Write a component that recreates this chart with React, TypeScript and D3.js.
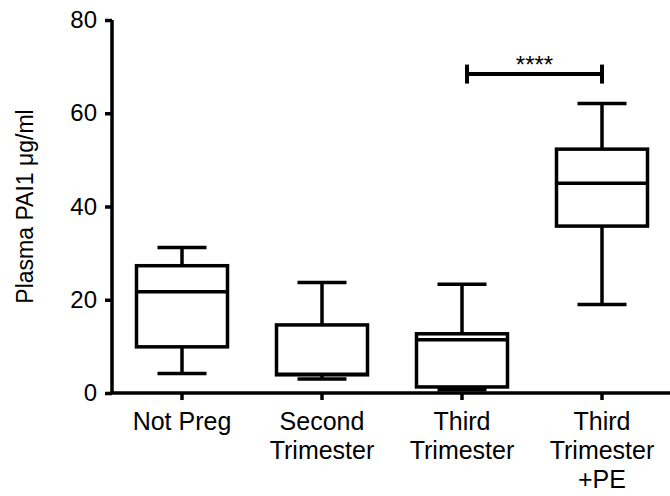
import * as d3 from 'd3';
import React, { useEffect, useRef } from 'react';

// groups
const categories = ['Not Preg', 'Second Trimester', 'Third Trimester', 'Third Trimester +PE'];
const categoryLines = [['Not Preg'], ['Second', 'Trimester'], ['Third', 'Trimester'], ['Third', 'Trimester', '+PE']];
const mins = [4.2, 3.0, 0.7, 19.0];
const q1s = [9.9, 3.9, 1.3, 35.8];
const medians = [21.7, 4.0, 11.4, 45.0];
const q3s = [27.3, 14.6, 12.7, 52.3];
const maxs = [31.2, 23.7, 23.3, 62.1];
const yTicks = [0, 20, 40, 60, 80];

// significance bracket between groups 3 and 4
const sigFrom = 'Third Trimester';
const sigTo = 'Third Trimester +PE';
const sigValue = 68.4;
const sigLabel = '****';

const W = 670;
const H = 496;
const font = '"Liberation Sans", Arial, sans-serif';

export default function App() {
  const ref = useRef<SVGSVGElement>(null);

  useEffect(() => {
    const svg = d3.select(ref.current);
    svg.selectAll('*').remove();

    const margin = { top: 20, right: -2, bottom: 103, left: 112 };
    const x = d3.scaleBand().domain(categories).range([margin.left, W - margin.right]).padding(0);
    const y = d3.scaleLinear().domain([0, 80]).range([H - margin.bottom, margin.top]);
    const cx = (c: string) => x(c)! + x.bandwidth() / 2;
    const boxW = x.bandwidth() * 0.65;
    const capW = x.bandwidth() * 0.35;
    const sw = 3.5;

    // y axis
    const gy = svg.append('g').attr('transform', 'translate(' + margin.left + ',0)')
      .call(d3.axisLeft(y).tickValues(yTicks).tickSize(7).tickPadding(8));
    gy.select('.domain').attr('stroke-width', sw).attr('d', 'M0,' + y(0) + 'V' + y(80));
    gy.selectAll('.tick line').attr('stroke-width', sw);
    gy.selectAll('.tick text').attr('font-size', 24).attr('font-family', font).attr('fill', '#000');

    // x axis
    const gx = svg.append('g').attr('transform', 'translate(0,' + y(0) + ')')
      .call(d3.axisBottom(x).tickSize(7).tickFormat(() => ''));
    gx.select('.domain').attr('stroke-width', sw).attr('d', 'M' + (margin.left - sw / 2) + ',0H' + W);
    gx.selectAll('.tick line').attr('stroke-width', sw);

    categories.forEach((c, i) => {
      const t = svg.append('text')
        .attr('x', cx(c)).attr('y', 430)
        .attr('text-anchor', 'middle').attr('font-size', 25).attr('font-family', font);
      categoryLines[i].forEach((ln, j) => {
        t.append('tspan').attr('x', cx(c)).attr('dy', j === 0 ? 0 : 29).text(ln);
      });
    });

    // boxes
    const g = svg.append('g').attr('stroke', '#000').attr('stroke-width', sw).attr('fill', 'none');
    categories.forEach((c, i) => {
      const m = cx(c);
      g.append('line').attr('x1', m).attr('x2', m).attr('y1', y(maxs[i])).attr('y2', y(q3s[i]));
      g.append('line').attr('x1', m).attr('x2', m).attr('y1', y(q1s[i])).attr('y2', y(mins[i]));
      g.append('line').attr('x1', m - capW / 2).attr('x2', m + capW / 2).attr('y1', y(maxs[i])).attr('y2', y(maxs[i]));
      g.append('line').attr('x1', m - capW / 2).attr('x2', m + capW / 2).attr('y1', y(mins[i])).attr('y2', y(mins[i]));
      g.append('rect')
        .attr('x', m - boxW / 2).attr('width', boxW)
        .attr('y', y(q3s[i])).attr('height', y(q1s[i]) - y(q3s[i]))
        .attr('fill', '#fff');
      g.append('line').attr('x1', m - boxW / 2).attr('x2', m + boxW / 2).attr('y1', y(medians[i])).attr('y2', y(medians[i]));
    });

    // significance bracket
    const sy = y(sigValue);
    const x1 = cx(sigFrom) + 5;
    const x2 = cx(sigTo);
    const b = svg.append('g').attr('stroke', '#000').attr('stroke-width', 4);
    b.append('line').attr('x1', x1).attr('x2', x2).attr('y1', sy).attr('y2', sy);
    b.append('line').attr('x1', x1).attr('x2', x1).attr('y1', sy - 9.5).attr('y2', sy + 9.5);
    b.append('line').attr('x1', x2).attr('x2', x2).attr('y1', sy - 9.5).attr('y2', sy + 9.5);
    svg.append('text')
      .attr('x', (x1 + x2) / 2).attr('y', sy - 1)
      .attr('text-anchor', 'middle').attr('font-size', 24).attr('font-family', font)
      .text(sigLabel);

    // y title
    svg.append('text')
      .attr('transform', 'translate(33,' + (y(0) + y(80)) / 2 + ') rotate(-90)')
      .attr('text-anchor', 'middle').attr('font-size', 23).attr('font-family', font)
      .text('Plasma PAI1 μg/ml');
  }, []);

  return (
    <svg ref={ref} width={W} height={H} style={{ position: 'absolute', left: 0, top: 0, background: '#fff' }} />
  );
}
